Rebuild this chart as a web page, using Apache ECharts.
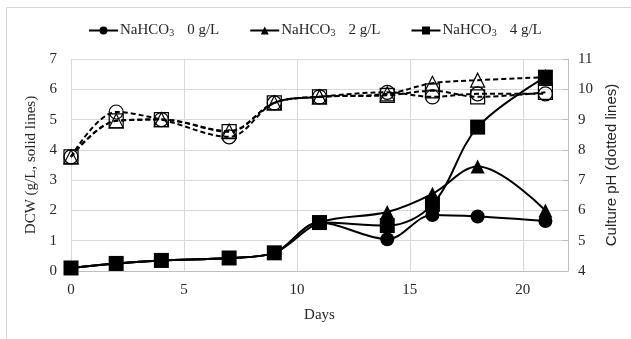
<!DOCTYPE html>
<html>
<head>
<meta charset="utf-8">
<script src="https://cdn.jsdelivr.net/npm/echarts@6/dist/echarts.min.js"></script>
<style>html,body{margin:0;padding:0;background:#fff;}#c{width:631px;height:339px;}</style>
</head>
<body>
<div id="c"></div>
<script>
// Data
var days = [0, 2, 4, 7, 9, 11, 14, 16, 18, 21];
var dcw0 = [0.1, 0.25, 0.35, 0.43, 0.6, 1.6, 1.05, 1.85, 1.8, 1.65];
var dcw2 = [0.1, 0.25, 0.35, 0.43, 0.6, 1.6, 1.95, 2.55, 3.45, 2.0];
var dcw4 = [0.1, 0.25, 0.35, 0.43, 0.6, 1.6, 1.5, 2.2, 4.75, 6.4];
var ph0 = [7.77, 9.25, 9.0, 8.43, 9.55, 9.75, 9.9, 9.75, 9.85, 9.85];
var ph2 = [7.77, 8.96, 9.0, 8.62, 9.55, 9.75, 9.85, 10.2, 10.3, 10.4];
var ph4 = [7.77, 8.96, 9.0, 8.6, 9.55, 9.75, 9.8, 9.95, 9.75, 9.9];
var legendNames = ['NaHCO3|0 g/L', 'NaHCO3|2 g/L', 'NaHCO3|4 g/L'];
var xTicks = [0, 5, 10, 15, 20];

function pairs(ys) { return days.map(function (d, i) { return [d, ys[i]]; }); }

var serif = '"Liberation Serif", "Times New Roman", serif';
var sans = '"Liberation Sans", Arial, sans-serif';
var txt = '#262626';
var gridC = '#d9d9d9';

function solid(name, ys, sym, size) {
  return {
    name: name, type: 'line', yAxisIndex: 0, data: pairs(ys), smooth: 0.35,
    symbol: sym, symbolSize: size, z: 5,
    lineStyle: { color: '#000', width: 2 },
    itemStyle: { color: '#000', borderColor: '#000', borderWidth: 0 }
  };
}
function dashed(name, ys, sym, size) {
  return {
    name: name, type: 'line', yAxisIndex: 1, data: pairs(ys), smooth: 0.35,
    symbol: sym, symbolSize: size, z: 3,
    lineStyle: { color: '#000', width: 2, type: [5, 3] },
    itemStyle: { color: 'rgba(255,255,255,0)', borderColor: '#000', borderWidth: 1.2 }
  };
}

var chart = echarts.init(document.getElementById('c'), null, { renderer: 'canvas' });
chart.setOption({
  animation: false,
  backgroundColor: '#fff',
  graphic: [{
    type: 'rect', shape: { x: 6.5, y: 7.5, width: 640, height: 350 },
    style: { fill: 'none', stroke: '#d6d6d6', lineWidth: 1 }, silent: true, z: -10
  }],
  legend: {
    data: legendNames, left: 83, top: 18, itemWidth: 29, itemHeight: 10, itemGap: 30,
    textStyle: {
      fontFamily: serif, fontSize: 15, color: txt, padding: [0, 0, 0, -3],
      rich: {
        n: { fontFamily: serif, fontSize: 15, color: txt },
        sub: { fontFamily: serif, fontSize: 10, color: txt, padding: [6, 0, 0, 0] },
        v: { fontFamily: serif, fontSize: 15, color: txt, padding: [0, 0, 0, 13] }
      }
    },
    formatter: function (n) {
      var p = n.split('|');
      return '{n|' + p[0].slice(0, -1) + '}{sub|3}{v|' + p[1] + '}';
    }
  },
  grid: { left: 71, right: 63, top: 59, bottom: 68 },
  xAxis: {
    type: 'value', min: 0, max: 22, interval: 5,
    name: 'Days', nameLocation: 'middle', nameGap: 37,
    nameTextStyle: { fontFamily: serif, fontSize: 15, color: txt },
    axisLine: { show: true, lineStyle: { color: '#bfbfbf' } },
    axisTick: { show: false },
    axisLabel: { fontFamily: serif, fontSize: 15, color: txt, margin: 12, showMaxLabel: false,
      formatter: function (v) { return xTicks.indexOf(v) >= 0 ? String(v) : ''; } },
    splitLine: { show: true, lineStyle: { color: gridC } }
  },
  yAxis: [{
    type: 'value', min: 0, max: 7, interval: 1, position: 'left',
    name: 'DCW (g/L, solid lines)', nameLocation: 'middle', nameGap: 26,
    nameTextStyle: { fontFamily: serif, fontSize: 15, color: txt },
    axisLine: { show: false }, axisTick: { show: false },
    axisLabel: { fontFamily: serif, fontSize: 15, color: txt, margin: 14 },
    splitLine: { show: true, lineStyle: { color: gridC } }
  }, {
    type: 'value', min: 4, max: 11, interval: 1, position: 'right',
    name: 'Culture pH (dotted lines)', nameLocation: 'middle', nameGap: 35,
    nameTextStyle: { fontFamily: sans, fontSize: 15, color: txt },
    axisLine: { show: true, lineStyle: { color: '#bfbfbf' } },
    axisTick: { show: true, inside: true, length: 6, lineStyle: { color: '#bfbfbf' } },
    axisLabel: { fontFamily: serif, fontSize: 15, color: txt, margin: 10 },
    splitLine: { show: false }
  }],
  series: [
    dashed('pH 0', ph0, 'circle', 14),
    dashed('pH 2', ph2, 'triangle', 14),
    dashed('pH 4', ph4, 'rect', 14),
    solid(legendNames[0], dcw0, 'circle', 14),
    solid(legendNames[1], dcw2, 'triangle', 14),
    solid(legendNames[2], dcw4, 'rect', 15)
  ]
});
</script>
</body>
</html>
